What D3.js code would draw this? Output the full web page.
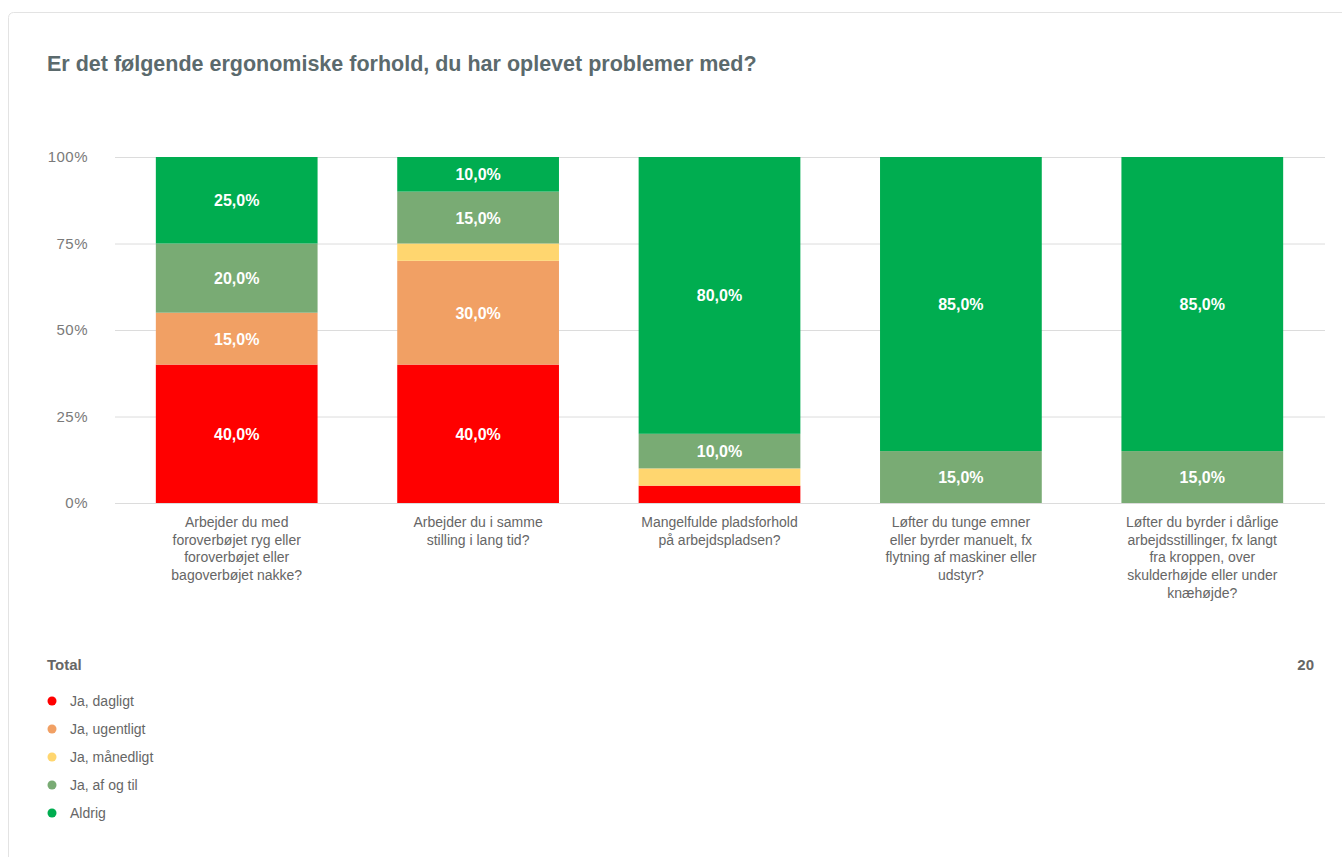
<!DOCTYPE html>
<html>
<head>
<meta charset="utf-8">
<script src="https://cdn.jsdelivr.net/npm/d3@7"></script>
<style>
  html, body { margin: 0; padding: 0; background: #ffffff; }
  svg { display: block; font-family: Arial, "Liberation Sans", sans-serif; }
</style>
</head>
<body>
<svg id="chart" width="1342" height="857"></svg>
<script>
const title = "Er det følgende ergonomiske forhold, du har oplevet problemer med?";

const categories = [
  ["Arbejder du med", "foroverbøjet ryg eller", "foroverbøjet eller", "bagoverbøjet nakke?"],
  ["Arbejder du i samme", "stilling i lang tid?"],
  ["Mangelfulde pladsforhold", "på arbejdspladsen?"],
  ["Løfter du tunge emner", "eller byrder manuelt, fx", "flytning af maskiner eller", "udstyr?"],
  ["Løfter du byrder i dårlige", "arbejdsstillinger, fx langt", "fra kroppen, over", "skulderhøjde eller under", "knæhøjde?"]
];

const seriesNames = ["Ja, dagligt", "Ja, ugentligt", "Ja, månedligt", "Ja, af og til", "Aldrig"];
const seriesColors = ["#ff0000", "#f1a064", "#ffd66f", "#79ab74", "#00ad50"];

// percentage per category, one array per series
const dagligt    = [40, 40, 5, 0, 0];
const ugentligt  = [15, 30, 0, 0, 0];
const maanedligt = [0, 5, 5, 0, 0];
const afOgTil    = [20, 15, 10, 15, 15];
const aldrig     = [25, 10, 80, 85, 85];

const yTicks = [0, 25, 50, 75, 100];
const totalLabel = "Total";
const totalCount = 20;

const seriesValues = [dagligt, ugentligt, maanedligt, afOgTil, aldrig];

const svg = d3.select("#chart");

// card frame
svg.append("rect")
  .attr("x", 8.5).attr("y", 12.5)
  .attr("width", 1345).attr("height", 860)
  .attr("rx", 5)
  .attr("fill", "#fff")
  .attr("stroke", "#e3e3e3");

svg.append("text")
  .attr("x", 47).attr("y", 71)
  .attr("font-size", 21.5).attr("font-weight", "bold")
  .attr("fill", "#5b6a6d")
  .text(title);

const x = d3.scaleBand()
  .domain(d3.range(categories.length))
  .range([116, 1323])
  .paddingInner(0.33)
  .paddingOuter(0.165);

const y = d3.scaleLinear().domain([0, 100]).range([503, 157]);

// gridlines + tick labels
const yAxis = d3.axisLeft(y)
  .tickValues(yTicks)
  .tickSize(-(1325 - 115))
  .tickFormat(d => d + "%");

const gy = svg.append("g")
  .attr("transform", "translate(115,0)")
  .call(yAxis);
gy.select(".domain").remove();
gy.selectAll(".tick line").attr("stroke", "#dcdcdc");
gy.selectAll(".tick text")
  .attr("x", -27)
  .attr("font-size", 15)
  .attr("letter-spacing", 0.5)
  .attr("fill", "#7a7a7a")
  .attr("font-family", "Arial, 'Liberation Sans', sans-serif");

// stacked data
const rows = categories.map((c, i) => {
  const r = { i };
  seriesNames.forEach((s, k) => r[s] = seriesValues[k][i]);
  return r;
});
const stack = d3.stack().keys(seriesNames)(rows);

const layers = svg.append("g").selectAll("g")
  .data(stack)
  .join("g")
  .attr("fill", (d, k) => seriesColors[k]);

layers.selectAll("rect")
  .data(d => d)
  .join("rect")
  .attr("x", d => x(d.data.i))
  .attr("width", x.bandwidth())
  .attr("y", d => y(d[1]))
  .attr("height", d => y(d[0]) - y(d[1]));

// value labels for segments tall enough to hold them
const labelG = svg.append("g");
stack.forEach(layer => {
  layer.forEach(d => {
    const v = d[1] - d[0];
    if (v >= 10) {
      labelG.append("text")
        .attr("x", x(d.data.i) + x.bandwidth() / 2)
        .attr("y", (y(d[0]) + y(d[1])) / 2 + 6)
        .attr("text-anchor", "middle")
        .attr("font-size", 16)
        .attr("font-weight", "bold")
        .attr("fill", "#ffffff")
        .text(d3.format(".1f")(v).replace(".", ",") + "%");
    }
  });
});

// category labels
categories.forEach((lines, i) => {
  const t = svg.append("text")
    .attr("text-anchor", "middle")
    .attr("font-size", 14)
    .attr("fill", "#666");
  lines.forEach((ln, j) => {
    t.append("tspan")
      .attr("x", x(i) + x.bandwidth() / 2)
      .attr("y", 527 + j * 17.7)
      .text(ln);
  });
});

// legend
svg.append("text")
  .attr("x", 47).attr("y", 670)
  .attr("font-size", 15).attr("font-weight", "bold")
  .attr("fill", "#666")
  .text(totalLabel);

svg.append("text")
  .attr("x", 1314).attr("y", 670)
  .attr("text-anchor", "end")
  .attr("font-size", 15).attr("font-weight", "bold")
  .attr("fill", "#666")
  .text(totalCount);

const legend = svg.append("g").selectAll("g")
  .data(seriesNames)
  .join("g")
  .attr("transform", (d, k) => `translate(0,${701 + k * 28})`);

legend.append("circle")
  .attr("cx", 52).attr("cy", 0).attr("r", 4.5)
  .attr("fill", (d, k) => seriesColors[k]);

legend.append("text")
  .attr("x", 70).attr("y", 5)
  .attr("font-size", 14)
  .attr("fill", "#666")
  .text(d => d);
</script>
</body>
</html>
